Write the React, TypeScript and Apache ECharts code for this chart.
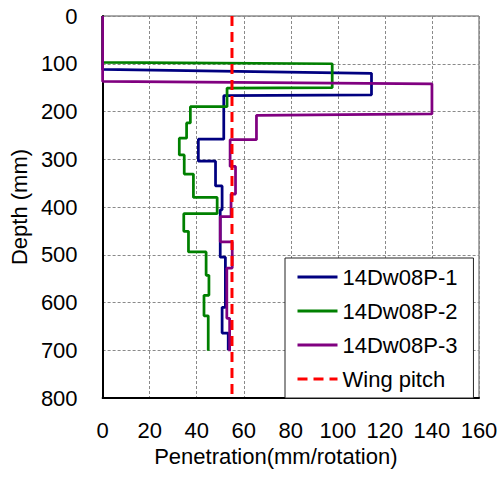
import React, { useEffect, useRef } from "react";
import * as echarts from "echarts";

// Series 14Dw08P-1 (penetration mm/rotation, depth mm)
const s1Pen = [0, 0, 114.3, 114.3, 51.5, 51.5, 40.7, 40.7, 48, 48, 50.8, 50.8, 50, 50, 52.2, 52.2, 50.8, 50.8, 53.4, 53.4];
const s1Depth = [0, 112, 120, 165, 167, 258, 258, 304, 304, 356, 356, 406, 406, 505, 505, 610, 610, 664, 664, 700];

// Series 14Dw08P-2
const s2Pen = [0, 0, 97.6, 97.6, 52.9, 52.9, 37.3, 37.3, 35.7, 35.7, 32.6, 32.6, 34.7, 34.7, 38.6, 38.6, 48.7, 48.7, 34.5, 34.5, 36.5, 36.5, 44, 44, 45.2, 45.2, 43.1, 43.1, 44.9, 44.9];
const s2Depth = [0, 97, 100, 150, 151, 190, 190, 224, 224, 256, 256, 291, 291, 331, 331, 380, 380, 414, 414, 451, 451, 494, 494, 543, 543, 585, 585, 628, 628, 701];

// Series 14Dw08P-3
const s3Pen = [0, 0, 140, 140, 65.4, 65.4, 54.2, 54.2, 56.5, 56.5, 54.6, 54.6, 50, 50, 55.1, 55.1, 52.8, 52.8, 54, 54];
const s3Depth = [0, 137, 142, 205, 208, 259, 259, 315, 315, 373, 373, 420, 420, 473, 473, 528, 528, 633, 633, 702];

// Wing pitch
const wingPen = [55, 55];
const wingDepth = [0, 800];

const seriesNames = ["14Dw08P-1", "14Dw08P-2", "14Dw08P-3", "Wing pitch"];

const zip = (xs: number[], ys: number[]) => xs.map((x, i) => [x, ys[i]]);

const FONT = "'Liberation Sans', Arial, sans-serif";

export default function App() {
  const ref = useRef<HTMLDivElement>(null);
  useEffect(() => {
    document.body.style.margin = "0";
    if (!ref.current) return;
    const chart = echarts.init(ref.current, undefined, { renderer: "svg" });
    const gridLine = { show: true, lineStyle: { color: "#8a8a8a", width: 1, type: [3, 2] as any } };
    chart.setOption({
      animation: false,
      backgroundColor: "#fff",
      textStyle: { fontFamily: FONT },
      grid: {
        left: 97,
        right: 22,
        top: 16,
        bottom: 80,
        show: true,
        borderColor: "#555",
        borderWidth: 1,
      },
      xAxis: {
        type: "value",
        min: 0,
        max: 160,
        interval: 20,
        name: "Penetration(mm/rotation)",
        nameLocation: "middle",
        nameGap: 47,
        nameTextStyle: { fontSize: 22, color: "#000", fontFamily: FONT, padding: [0, 30, 0, 0] },
        axisLine: { show: true, onZero: false, lineStyle: { color: "#000", width: 2 } },
        axisTick: { show: false },
        axisLabel: { fontSize: 22, color: "#000", margin: 21, fontFamily: FONT },
        splitLine: gridLine,
      },
      yAxis: {
        type: "value",
        min: 0,
        max: 800,
        interval: 100,
        inverse: true,
        name: "Depth (mm)",
        nameLocation: "middle",
        nameGap: 64,
        nameRotate: 90,
        nameTextStyle: { fontSize: 22, color: "#000", fontFamily: FONT },
        axisLine: { show: true, onZero: false, lineStyle: { color: "#000", width: 2 } },
        axisTick: { show: false },
        axisLabel: { fontSize: 22, color: "#000", margin: 25, fontFamily: FONT },
        splitLine: gridLine,
      },
      legend: {
        orient: "vertical",
        left: 285,
        top: 258,
        itemWidth: 40,
        itemHeight: 14,
        itemGap: 12,
        padding: [8, 16, 8, 11],
        borderColor: "#222",
        borderWidth: 1,
        backgroundColor: "#fff",
        itemStyle: { opacity: 0 },
        lineStyle: { width: 3 },
        textStyle: { fontSize: 22, color: "#000", fontFamily: FONT },
        data: seriesNames,
      },
      series: [
        {
          name: seriesNames[0],
          type: "line",
          symbol: "none",
          data: zip(s1Pen, s1Depth),
          lineStyle: { color: "#000080", width: 2.75 },
          itemStyle: { color: "#000080" },
        },
        {
          name: seriesNames[1],
          type: "line",
          symbol: "none",
          data: zip(s2Pen, s2Depth),
          lineStyle: { color: "#008000", width: 2.75 },
          itemStyle: { color: "#008000" },
        },
        {
          name: seriesNames[2],
          type: "line",
          symbol: "none",
          data: zip(s3Pen, s3Depth),
          lineStyle: { color: "#800080", width: 2.75 },
          itemStyle: { color: "#800080" },
        },
        {
          name: seriesNames[3],
          type: "line",
          symbol: "none",
          data: zip(wingPen, wingDepth),
          lineStyle: { color: "#ff0000", width: 3, type: [10, 6] },
          itemStyle: { color: "#ff0000" },
        },
      ],
    });
    return () => chart.dispose();
  }, []);
  return (
    <div
      ref={ref}
      style={{ position: "absolute", left: 0, top: 0, width: 501, height: 478 }}
    />
  );
}
